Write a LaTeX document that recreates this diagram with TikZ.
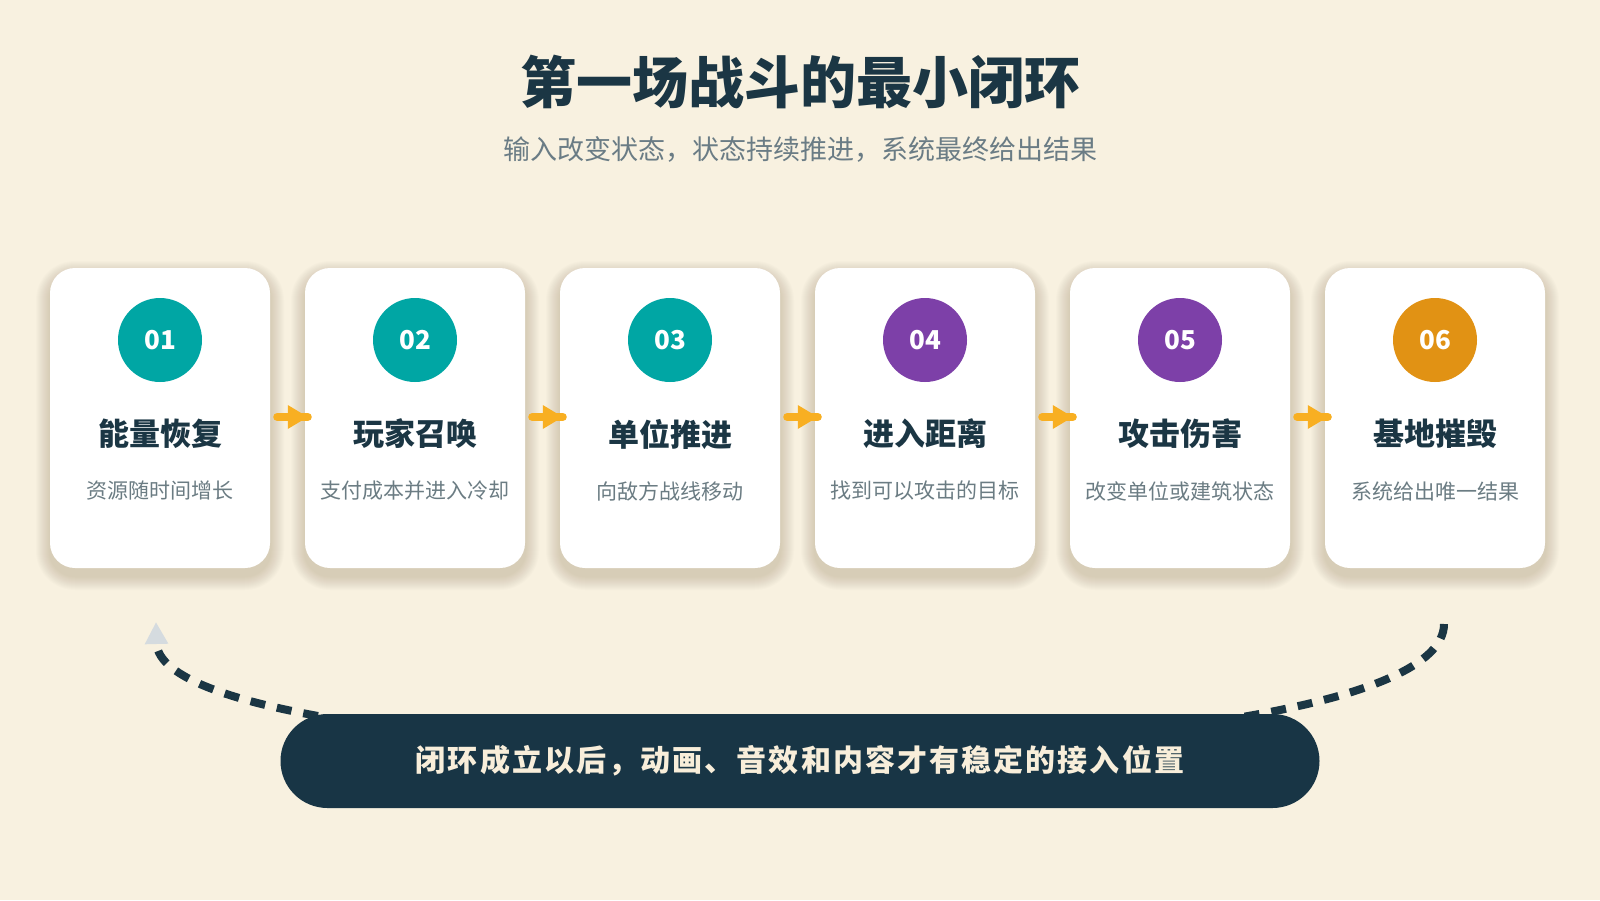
\documentclass[tikz,border=0pt]{standalone}
\usepackage{fontspec}
\setmainfont{Noto Sans CJK SC}
\newfontfamily\pillfont{Noto Sans CJK SC}[LetterSpace=7]
\usetikzlibrary{arrows.meta,calc}
\definecolor{bg}{HTML}{F8F1E0}
\definecolor{ink}{HTML}{1B3644}
\definecolor{subgray}{HTML}{6A7C85}
\definecolor{tealc}{HTML}{00A6A4}
\definecolor{purplec}{HTML}{7D40A8}
\definecolor{amberc}{HTML}{E19214}
\definecolor{flowc}{HTML}{F8AF22}
\definecolor{cardsub}{HTML}{6B7C83}
\definecolor{navy}{HTML}{183545}
\definecolor{cream}{HTML}{F8EEDA}
\definecolor{arrowgray}{HTML}{D5DBDF}
\definecolor{shadowc}{HTML}{6B5A3A}
\tikzset{
  cardbox/.style={fill=white, draw=none, rounded corners=25pt, minimum width=220pt, minimum height=300pt, inner sep=0pt},
  numcircle/.style={circle, draw=none, minimum size=84pt, inner sep=0pt, text=white, font=\bfseries\fontsize{26}{30}\selectfont},
  cardtitle/.style={text=ink, font=\bfseries\fontsize{31}{36}\selectfont, inner sep=0pt},
  cardsubtext/.style={text=cardsub, font=\fontsize{21}{25}\selectfont, inner sep=0pt},
  flowline/.style={draw=flowc, line width=8pt, line cap=round},
  flowhead/.style={fill=flowc, draw=none},
  loopline/.style={draw=ink, line width=8pt, dash pattern=on 15pt off 12pt, -{Triangle[length=22pt,width=22pt,color=arrowgray]}},
  pillbox/.style={fill=navy, draw=none, rounded corners=47pt, minimum width=1039pt, minimum height=94pt, inner sep=0pt, text=cream, font=\pillfont\bfseries\fontsize{30}{34}\selectfont}
}
\begin{document}
\begin{tikzpicture}[x=1pt,y=-1pt]
\fill[bg] (0,0) rectangle (1600,900);
\useasboundingbox (0,0) rectangle (1600,900);

\node[text=ink, font=\bfseries\fontsize{56}{62}\selectfont] (title) at (800,82) {第一场战斗的最小闭环};
\node[text=subgray, font=\fontsize{27}{31}\selectfont] (subtitle) at (800,149) {输入改变状态，状态持续推进，系统最终给出结果};

\foreach \i/\col/\ti/\su [count=\k from 0] in {
  01/tealc/能量恢复/资源随时间增长,
  02/tealc/玩家召唤/支付成本并进入冷却,
  03/tealc/单位推进/向敌方战线移动,
  04/purplec/进入距离/找到可以攻击的目标,
  05/purplec/攻击伤害/改变单位或建筑状态,
  06/amberc/基地摧毁/系统给出唯一结果}{
  \pgfmathsetmacro\cx{160+255*\k}
  \foreach \s in {1,...,14}{
    \pgfmathsetmacro\rr{25+\s}
    \fill[shadowc, opacity=0.017, rounded corners=\rr pt] (\cx-110-\s, 275-\s) rectangle (\cx+110+\s, 576+\s);
  }
  \node[cardbox] (card\i) at (\cx,418) {};
  \node[numcircle, fill=\col] (num\i) at (\cx,340) {\i};
  \node[cardtitle] (tt\i) at (\cx,434) {\ti};
  \node[cardsubtext] (st\i) at (\cx,491) {\su};
}

\foreach \a/\b in {01/02,02/03,03/04,04/05,05/06}{
  \draw[flowline] ([xshift=7pt,yshift=1pt]card\a.east) -- ([xshift=3pt,yshift=1pt]card\b.west) coordinate (tip\b);
  \fill[flowhead] (tip\b) -- ++(-20,-12) -- ++(0,24) -- cycle;
}

\coordinate (arcR) at (1444,624);
\coordinate (arcL) at (156,622);
\draw[loopline] (arcR) .. controls (1444,790) and (160,784) .. (arcL);

\node[pillbox] (note) at (800,761) {闭环成立以后，动画、音效和内容才有稳定的接入位置};
\end{tikzpicture}
\end{document}
